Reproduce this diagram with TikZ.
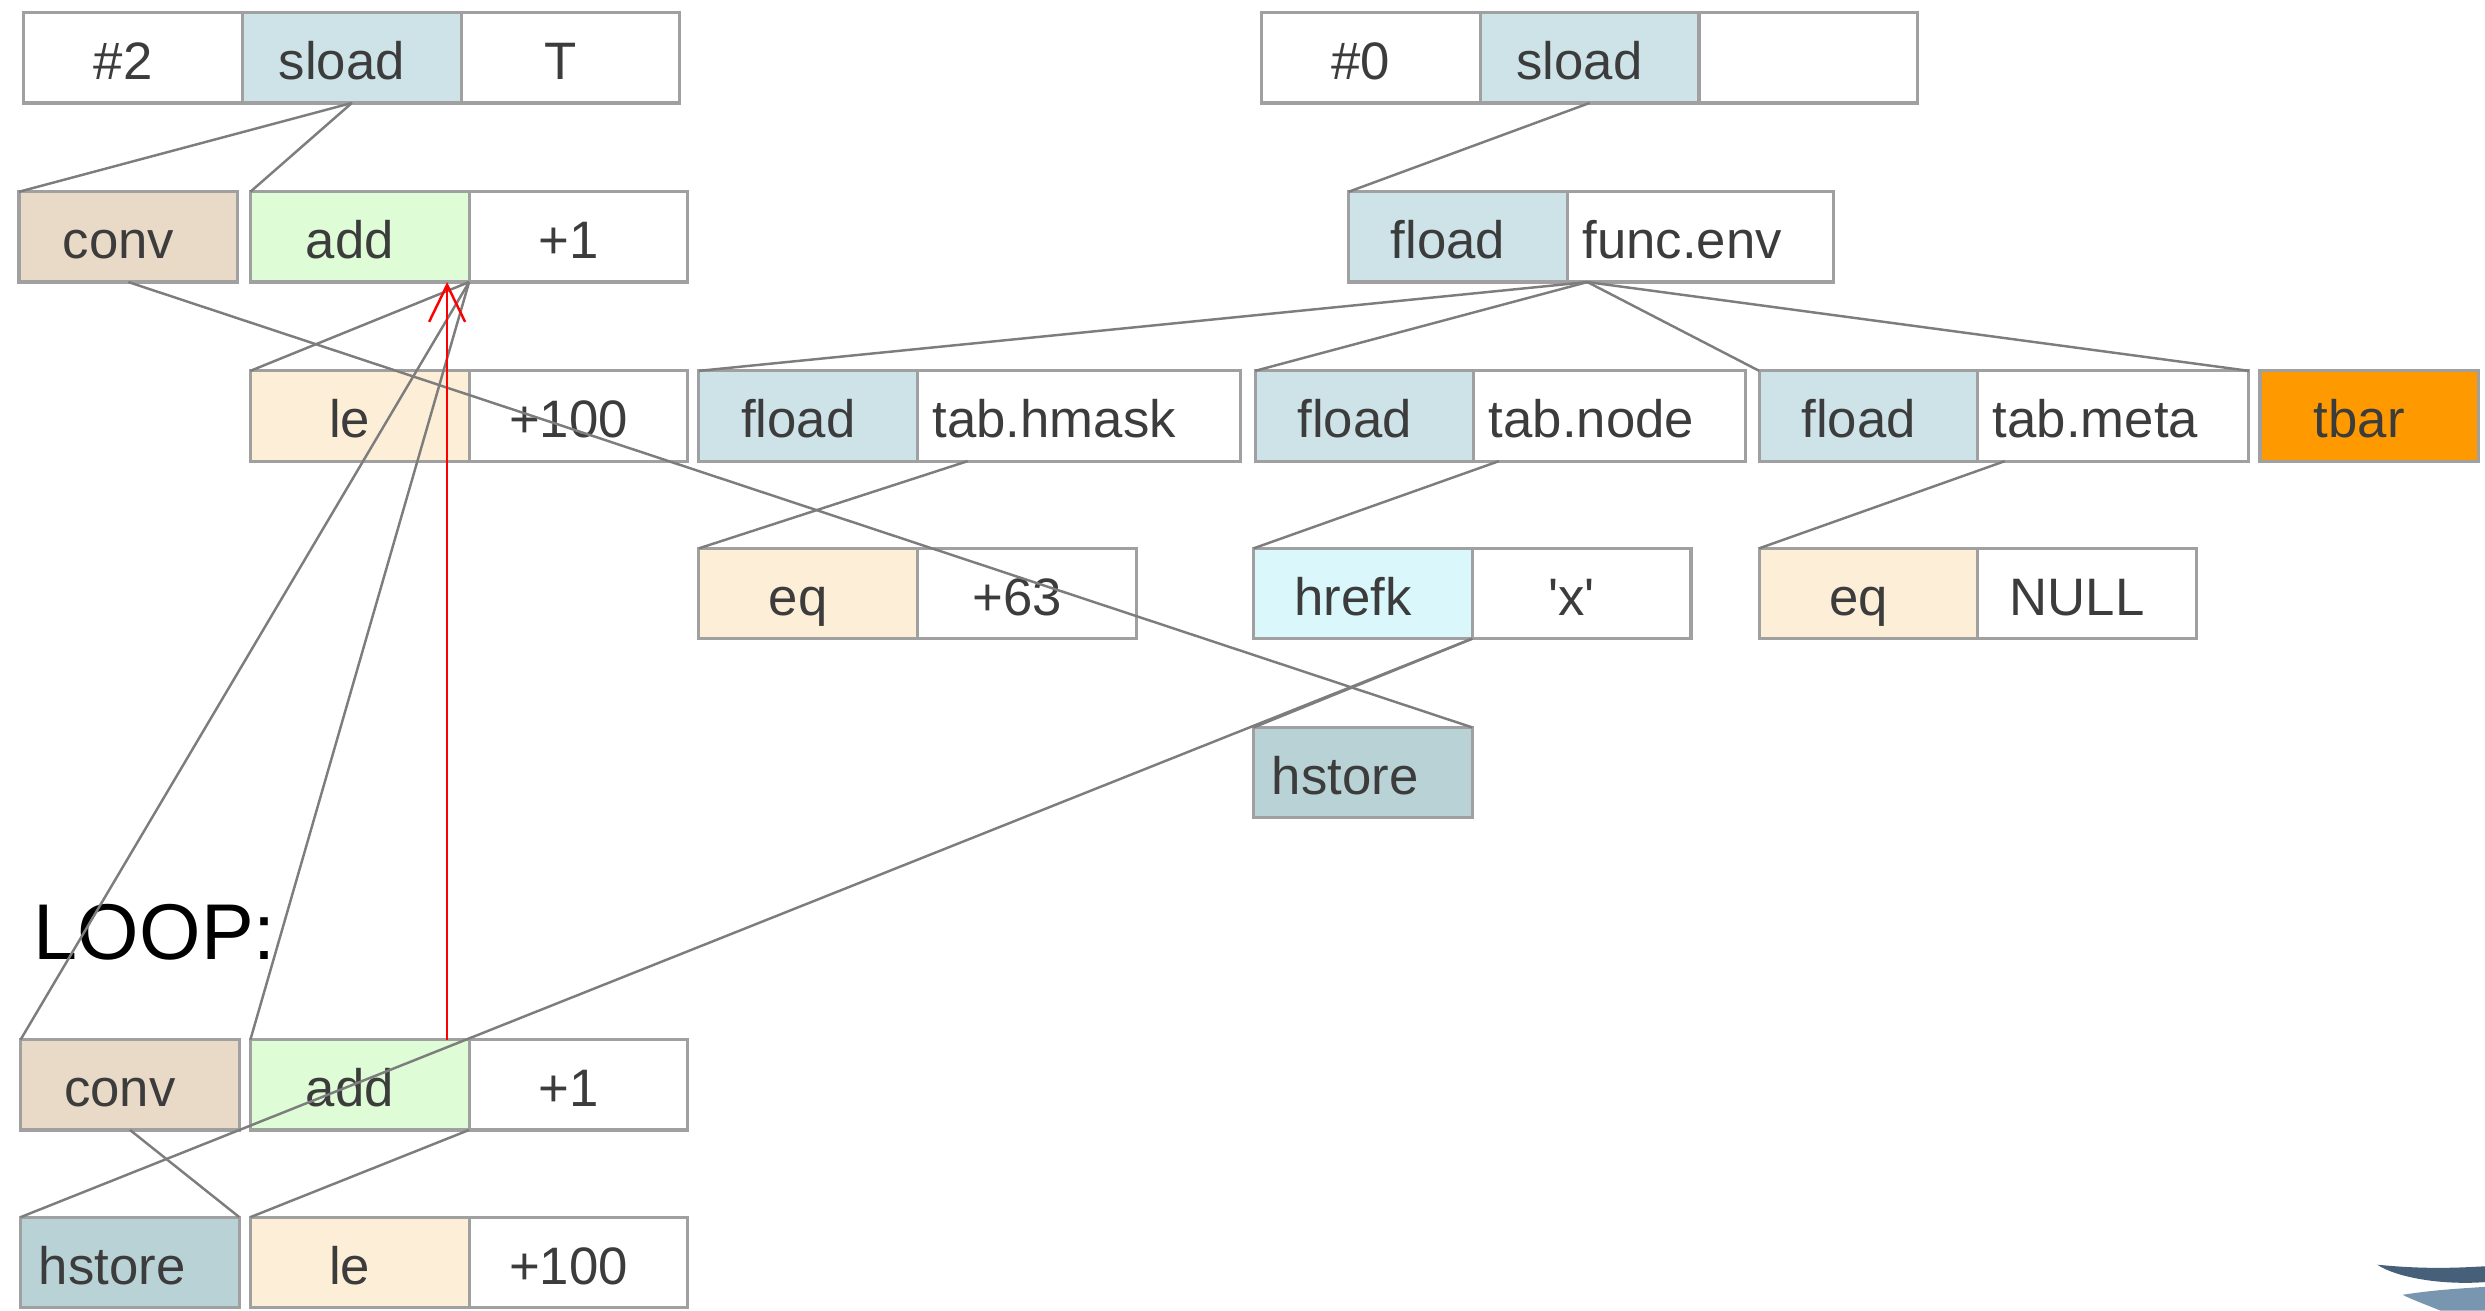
\documentclass[tikz,border=0pt]{standalone}
\usepackage{fontspec}
\setmainfont{Liberation Sans}
\usepackage{xcolor}
\usetikzlibrary{positioning,arrows.meta}

\definecolor{boxgray}{RGB}{160,160,160}
\definecolor{linegray}{RGB}{125,125,125}
\definecolor{txtgray}{RGB}{60,60,60}
\definecolor{loadblue}{RGB}{205,227,232}
\definecolor{convtan}{RGB}{232,218,198}
\definecolor{addgreen}{RGB}{222,252,214}
\definecolor{cmppeach}{RGB}{253,238,216}
\definecolor{refcyan}{RGB}{218,248,252}
\definecolor{storeblue}{RGB}{185,210,214}
\definecolor{barorange}{RGB}{255,153,0}
\definecolor{logoblue}{RGB}{70,96,122}
\definecolor{logolight}{RGB}{120,150,175}

\tikzset{
  cell/.style={draw=boxgray, line width=0.9pt, minimum width=21.87mm, minimum height=9.03mm,
    inner sep=0pt, outer sep=0pt, text=txtgray, font=\fontsize{15}{18}\selectfont,
    text height=12.5pt, text depth=0pt, execute at end node={\hspace*{2mm}}},
  lcell/.style={cell, align=left, inner xsep=1.5mm, text width=#1, execute at end node={}},
  wire/.style={draw=linegray, line width=0.7pt},
  back/.style={draw=red, line width=0.7pt, -{Straight Barb[length=3.7mm,width=3.6mm]}}
}

\begin{document}
\begin{tikzpicture}[x=0.15848mm, y=-0.15848mm]
    \useasboundingbox (0,0) rectangle (1568,827);
    \node[cell,anchor=north west] (n2) at (15,8) {\#2};
    \node[cell,fill=loadblue,right=0pt of n2] (sl2) {sload};
    \node[cell,right=0pt of sl2] (t2) {T};
    \node[cell,anchor=north west] (n0) at (796,8) {\#0};
    \node[cell,fill=loadblue,right=0pt of n0] (sl0) {sload};
    \node[cell,right=0pt of sl0] (e0) {};

    \node[cell,fill=convtan,anchor=north west] (conv0) at (12,121) {conv};
    \node[cell,fill=addgreen,anchor=north west] (add0) at (158,121) {add};
    \node[cell,right=0pt of add0] (one0) {+1};
    \node[cell,fill=loadblue,anchor=north west] (fl0) at (851,121) {fload};
    \node[lcell=23.6mm,right=0pt of fl0] (env) {func.env};

    \node[cell,fill=cmppeach,anchor=north west] (le0) at (158,234) {le};
    \node[cell,right=0pt of le0] (hun0) {+100};
    \node[cell,fill=loadblue,anchor=north west] (fl1) at (441,234) {fload};
    \node[lcell=29.3mm,right=0pt of fl1] (hmask) {tab.hmask};
    \node[cell,fill=loadblue,anchor=north west] (fl2) at (792,234) {fload};
    \node[lcell=24.2mm,right=0pt of fl2] (tnode) {tab.node};
    \node[cell,fill=loadblue,anchor=north west] (fl3) at (1110,234) {fload};
    \node[lcell=24.1mm,right=0pt of fl3] (tmeta) {tab.meta};
    \node[cell,fill=barorange,anchor=north west] (tbar) at (1426,234) {tbar};

    \node[cell,fill=cmppeach,anchor=north west] (eq0) at (441,346) {eq};
    \node[cell,right=0pt of eq0] (s63) {+63};
    \node[cell,fill=refcyan,anchor=north west] (hrefk) at (791,346) {hrefk};
    \node[cell,right=0pt of hrefk] (xq) {\textquotesingle x\textquotesingle};
    \node[cell,fill=cmppeach,anchor=north west] (eq1) at (1110,346) {eq};
    \node[cell,right=0pt of eq1] (null) {NULL};

    \node[lcell=18.2mm,fill=storeblue,anchor=north west,inner xsep=1.8mm] (hst0) at (791,459) {hstore};

    \node[anchor=west,inner sep=0pt,font=\fontsize{22.5}{26}\selectfont] (loop) at (21,588) {LOOP:};

    \node[cell,fill=convtan,anchor=north west] (conv1) at (13,656) {conv};
    \node[cell,fill=addgreen,anchor=north west] (add1) at (158,656) {add};
    \node[cell,right=0pt of add1] (one1) {+1};

    \node[lcell=18.2mm,fill=storeblue,anchor=north west,inner xsep=1.8mm] (hst1) at (13,768) {hstore};
    \node[cell,fill=cmppeach,anchor=north west] (le1) at (158,768) {le};
    \node[cell,right=0pt of le1] (hun1) {+100};

    \draw[wire] (sl2.south) -- (conv0.north west);
    \draw[wire] (sl2.south) -- (add0.north west);
    \draw[wire] (conv0.south) -- (hst0.north east);
    \draw[wire] (add0.south east) -- (le0.north west);
    \draw[wire] (add0.south east) -- (conv1.north west);
    \draw[wire] (add0.south east) -- (add1.north west);
    \draw[back] ([xshift=-2.2mm]add1.north east) -- ([xshift=-2.2mm]add0.south east);

    \draw[wire] (sl0.south) -- (fl0.north west);
    \draw[wire] ([xshift=2mm]env.south west) -- (fl1.north west);
    \draw[wire] ([xshift=2mm]env.south west) -- (fl2.north west);
    \draw[wire] ([xshift=2mm]env.south west) -- (fl3.north west);
    \draw[wire] ([xshift=2mm]env.south west) -- (tmeta.north east);
    \draw[wire] ([xshift=5mm]hmask.south west) -- (eq0.north west);
    \draw[wire] ([xshift=2.5mm]tnode.south west) -- (hrefk.north west);
    \draw[wire] ([xshift=2.7mm]tmeta.south west) -- (eq1.north west);
    \draw[wire] (xq.south west) -- (hst0.north west);
    \draw[wire] (xq.south west) -- (hst1.north west);

    \draw[wire] (conv1.south) -- (hst1.north east);
    \draw[wire] (add1.south east) -- (le1.north west);

    \fill[logoblue] (1500,798) .. controls (1530,801) and (1550,800) .. (1568,799)
      -- (1568,809) .. controls (1540,811) and (1512,806) .. (1500,798);
    \fill[logolight] (1516,817) .. controls (1535,814) and (1552,813) .. (1568,812)
      -- (1568,827) -- (1540,827) .. controls (1530,823) and (1522,820) .. (1516,817);
\end{tikzpicture}
\end{document}
